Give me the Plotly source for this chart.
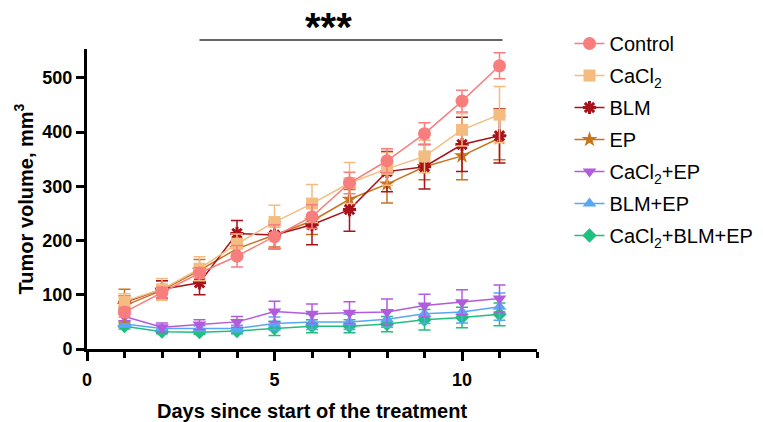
import plotly.graph_objects as go

days = [1, 2, 3, 4, 5, 6, 7, 8, 9, 10, 11]

control = [68, 104, 140, 171, 207, 244, 306, 347, 397, 457, 522]
control_err = [9, 10, 10, 20, 22, 22, 20, 22, 20, 20, 24]

cacl2 = [88, 110, 148, 194, 234, 268, 306, 332, 355, 404, 432]
cacl2_err = [14, 20, 22, 18, 31, 35, 38, 30, 30, 30, 52]

blm = [86, 110, 122, 213, 210, 229, 257, 327, 336, 377, 393]
blm_err = [12, 16, 22, 24, 25, 37, 40, 37, 41, 50, 50]

ep = [80, 108, 145, 185, 210, 236, 276, 304, 336, 356, 389]
ep_err = [30, 18, 20, 15, 22, 25, 18, 35, 24, 44, 40]

cacl2_ep = [60, 40, 45, 50, 69, 65, 67, 68, 80, 86, 93]
cacl2_ep_err = [8, 8, 9, 10, 19, 18, 20, 24, 21, 23, 25]

blm_ep = [46, 38, 38, 38, 47, 50, 50, 55, 65, 68, 78]
blm_ep_err = [6, 5, 5, 6, 12, 14, 14, 15, 18, 20, 25]

cacl2_blm_ep = [42, 32, 31, 33, 38, 42, 42, 46, 54, 58, 64]
cacl2_blm_ep_err = [5, 4, 4, 5, 13, 12, 12, 14, 19, 19, 21]

series = [
    ("Control", control, control_err, "#F87E7E", "circle", 13),
    ("CaCl<sub>2</sub>", cacl2, cacl2_err, "#F4BC80", "square", 12),
    ("BLM", blm, blm_err, "#A8121A", "asterisk-open", 11),
    ("EP", ep, ep_err, "#C8731E", "star", 12),
    ("CaCl<sub>2</sub>+EP", cacl2_ep, cacl2_ep_err, "#B35BDD", "triangle-down", 12),
    ("BLM+EP", blm_ep, blm_ep_err, "#58A6F7", "triangle-up", 12),
    ("CaCl<sub>2</sub>+BLM+EP", cacl2_blm_ep, cacl2_blm_ep_err, "#1FBF7F", "diamond", 11),
]

fig = go.Figure()
for rank, (name, vals, errs, color, sym, size) in reversed(list(enumerate(series))):
    marker = dict(color=color, symbol=sym, size=size, line=dict(width=0, color=color))
    if sym == "asterisk-open":
        marker["line"] = dict(width=3, color=color)
    fig.add_trace(go.Scatter(
        x=days, y=vals, name=name, mode="lines+markers",
        line=dict(color=color, width=1.5),
        marker=marker,
        error_y=dict(type="data", array=errs, color=color, thickness=1.5, width=6),
        legendrank=rank + 1, legendgroup=str(rank),
    ))

axis_font = dict(family="Liberation Sans, Arial", size=18, color="black", weight="bold")

W, H = 755, 414  # page body has an 8px margin; figure offset accordingly
fig.update_layout(
    width=W, height=H,
    margin=dict(l=79, r=226, t=41, b=73, autoexpand=False),
    plot_bgcolor="white", paper_bgcolor="white",
    font=dict(family="Liberation Sans, Arial", color="black"),
    showlegend=True,
    legend=dict(xref="container", yref="container", x=561.5 / W, y=1 - 16 / H,
                xanchor="left", yanchor="top",
                font=dict(size=20, color="black"), tracegroupgap=3,
                maxheight=390, bgcolor="rgba(0,0,0,0)"),
    xaxis=dict(range=[0, 12], tickvals=[0, 5, 10], showline=True, linewidth=3,
               linecolor="black", ticks="outside", ticklen=9, tickwidth=2.5,
               tickcolor="black", showgrid=False, zeroline=False, automargin=False,
               tickfont=axis_font, ticklabelstandoff=3,
               minor=dict(dtick=1, tick0=0, ticks="outside", ticklen=6, tickwidth=2.5,
                          tickcolor="black", showgrid=False),
               title=dict(text="Days since start of the treatment",
                          font=dict(size=20, color="black", weight="bold"), standoff=16)),
    yaxis=dict(range=[0, 553], tickvals=[0, 100, 200, 300, 400, 500], showline=True,
               linewidth=3, linecolor="black", ticks="outside", ticklen=8, tickwidth=2.5,
               tickcolor="black", showgrid=False, zeroline=False, tickfont=axis_font,
               automargin=False,
               title=dict(text="Tumor volume, mm<sup>3</sup>",
                          font=dict(size=20, color="black", weight="bold"), standoff=4)),
)

fig.add_shape(type="line", xref="x", yref="paper", x0=3, x1=11.08, y0=1.03, y1=1.03,
              line=dict(color="#333333", width=1.5))
fig.add_annotation(text="<b>***</b>", xref="x", yref="paper", x=6.45, y=1.075,
                   yanchor="middle", showarrow=False, font=dict(size=40, color="black"))

fig.write_html("out.html")
